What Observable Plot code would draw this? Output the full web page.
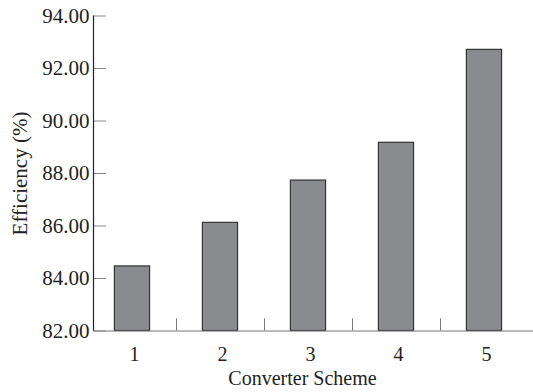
<!DOCTYPE html>
<html>
<head>
<meta charset="utf-8">
<script src="https://cdn.jsdelivr.net/npm/d3@7"></script>
<script src="https://cdn.jsdelivr.net/npm/@observablehq/plot@0.6"></script>
<style>
  html, body { margin: 0; padding: 0; background: #fff; }
  svg { display: block; }
</style>
</head>
<body>
<div id="chart"></div>
<script>
const schemes = [1, 2, 3, 4, 5];
const efficiency = [84.46, 86.12, 87.73, 89.17, 92.71];
const yTicks = [82, 84, 86, 88, 90, 92, 94];
const xBoundaries = [1.5, 2.5, 3.5, 4.5];
const xTitle = "Converter Scheme";
const yTitle = "Efficiency (%)";

const data = schemes.map((s, i) => ({scheme: s, eff: efficiency[i]}));
const halfBar = 0.2;
const font = "Liberation Serif, Times New Roman, serif";

const chart = Plot.plot({
  width: 533,
  height: 392,
  marginLeft: 93,
  marginRight: 0,
  marginTop: 15.5,
  marginBottom: 61.5,
  style: {fontFamily: font, fontSize: "21px", color: "#222", background: "#fff"},
  x: {type: "linear", domain: [0.557, 5.557]},
  y: {domain: [82, 94]},
  marks: [
    Plot.rectY(data, {
      x1: d => d.scheme - halfBar,
      x2: d => d.scheme + halfBar,
      y1: 82,
      y2: "eff",
      fill: "#8a8b8f",
      stroke: "#333",
      strokeWidth: 1.2
    }),
    Plot.ruleY([82], {stroke: "#777", strokeWidth: 1.2}),
    Plot.axisX({ticks: xBoundaries, tickSize: -12, tickFormat: () => "", stroke: "#777", label: null}),
    Plot.axisX({ticks: schemes, tickSize: 0, tickPadding: 16, dx: 2, tickFormat: d => String(d), label: null, fill: "#222", fontSize: 20}),
    Plot.axisY({ticks: yTicks, tickSize: -13, tickPadding: 17, tickFormat: d => d.toFixed(2), stroke: "#888", fill: "#222", label: null}),
    Plot.ruleX([0.557], {stroke: "#222", strokeWidth: 1.2}),
    Plot.text([xTitle], {frameAnchor: "bottom", dy: 48, dx: -11, lineAnchor: "middle", textAnchor: "middle", fill: "#222", fontSize: 20}),
    Plot.text([yTitle], {frameAnchor: "left", dx: -73, rotate: -90, lineAnchor: "middle", textAnchor: "middle", fill: "#222", fontSize: 21})
  ]
});
document.getElementById("chart").append(chart);
</script>
</body>
</html>
